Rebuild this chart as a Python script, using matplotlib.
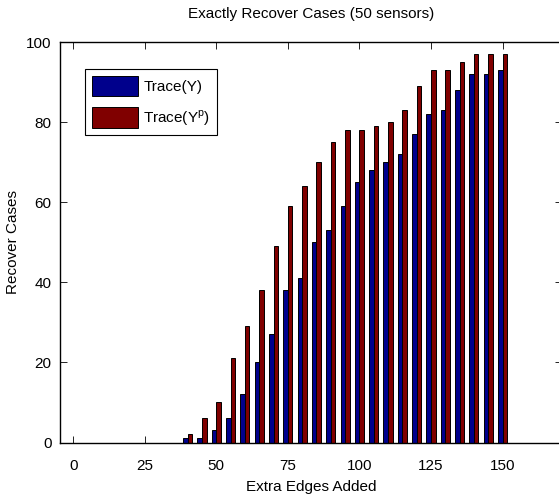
import matplotlib
matplotlib.use('Agg')
import matplotlib.pyplot as plt
import numpy as np

# extra edges added (x) and number of exactly recovered cases for each trace criterion
edges_added = [0, 5, 10, 15, 20, 25, 30, 35, 40, 45, 50, 55, 60, 65, 70, 75,
               80, 85, 90, 95, 100, 105, 110, 115, 120, 125, 130, 135, 140, 145, 150]
trace_y = [0, 0, 0, 0, 0, 0, 0, 0, 1, 1, 3, 6, 12, 20, 27, 38,
           41, 50, 53, 59, 65, 68, 70, 72, 77, 82, 83, 88, 92, 92, 93]
trace_yp = [0, 0, 0, 0, 0, 0, 0, 0, 2, 6, 10, 21, 29, 38, 49, 59,
            64, 70, 75, 78, 78, 79, 80, 83, 89, 93, 93, 95, 97, 97, 97]

family, fs = 'Liberation Sans', 11
plt.rcParams['font.family'] = [family, 'DejaVu Sans']
plt.rcParams['mathtext.fontset'] = 'custom'
plt.rcParams['mathtext.rm'] = family

fig = plt.figure(figsize=(5.59, 5.0), dpi=100)
ax = fig.add_axes([60 / 559, 57.5 / 500, 501.5 / 559, 400.5 / 500])

x = np.array(edges_added)
w = 1.6
ax.bar(x - w / 2, trace_y, width=w, color='#00008c', edgecolor='black',
       linewidth=0.7, label='Trace(Y)')
ax.bar(x + w / 2, trace_yp, width=w, color='#800000', edgecolor='black',
       linewidth=0.7, label=r'Trace(Y$^{\mathrm{p}}$)')

ax.set_xlim(-4.6, 170.6)
ax.set_ylim(0, 100)
ax.set_xticks([0, 25, 50, 75, 100, 125, 150])
ax.set_yticks([0, 20, 40, 60, 80, 100])
ax.tick_params(direction='in', top=True, right=True, length=5, width=0.6,
               labelsize=fs)
ax.tick_params(axis='x', pad=12)
ax.tick_params(axis='y', pad=6)
for s in ax.spines.values():
    s.set_linewidth(1.0)

ax.set_title('Exactly Recover Cases (50 sensors)', fontsize=fs, pad=17)
ax.set_xlabel('Extra Edges Added', fontsize=fs, labelpad=5)
ax.set_ylabel('Recover Cases', fontsize=fs)
ax.yaxis.set_label_coords(-0.08, 0.5)

leg = ax.legend(loc='upper left', bbox_to_anchor=(0.05, 0.9326), borderaxespad=0,
                fontsize=fs, handlelength=3.0, handleheight=1.7, handletextpad=0.35,
                labelspacing=0.7, borderpad=0.45, fancybox=False,
                framealpha=1, edgecolor='black')
leg.get_frame().set_linewidth(0.8)

fig.savefig('out.png', dpi=100)
